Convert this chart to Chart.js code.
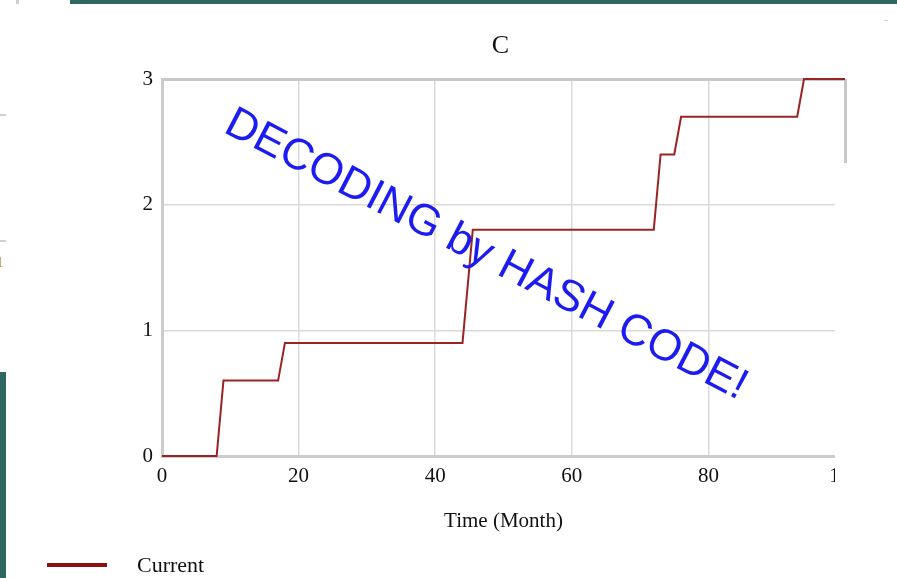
<!DOCTYPE html>
<html>
<head>
<meta charset="utf-8">
<script src="https://cdn.jsdelivr.net/npm/chart.js@4/dist/chart.umd.min.js"></script>
<style>
  html, body { margin: 0; padding: 0; background: #fff; overflow: hidden; }
  canvas { display: block; }
</style>
</head>
<body>
<canvas id="chart-c" width="897" height="578"></canvas>
<script>
// values
const time = [0, 8, 9, 17, 18, 44, 45.5, 72, 73, 75, 76, 93, 94, 100]
const current = [0, 0, 0.6, 0.6, 0.9, 0.9, 1.8, 1.8, 2.4, 2.4, 2.7, 2.7, 3, 3]
const xTicks = [0, 20, 40, 60, 80, 100]
const yTicks = [0, 1, 2, 3]

const serif = "'Liberation Serif', 'Times New Roman', serif"
const lineColor = "#9a2424"

// frame edges get the darker, thicker grey
const gridColor = (edge) => (c) => c.tick && c.tick.value === edge ? "#c8c8c8" : "#dadada"
const gridWidth = (edge, w) => (c) => c.tick && c.tick.value === edge ? w : 1.5

const decor = {
  id: "decor",
  afterDraw(chart) {
    const ctx = chart.ctx
    const area = chart.chartArea
    ctx.save()
    // the screenshot is cut off on the right below the top part
    ctx.fillStyle = "#fff"
    ctx.fillRect(835, 163, 62, 415)

    // chart title, centred a little left of the plot centre like the original
    ctx.fillStyle = "#111"
    ctx.font = "26px " + serif
    ctx.textAlign = "center"
    ctx.textBaseline = "middle"
    ctx.fillText("C", (area.left + area.right) / 2 - 3, 46)

    // bits of the surrounding slide
    ctx.fillStyle = "#2f6763"
    ctx.fillRect(70, 0, 827, 4)
    ctx.fillRect(0, 372, 6, 206)
    ctx.fillStyle = "#cfcfcf"
    ctx.fillRect(16, 0, 3, 4)
    ctx.fillRect(0, 114, 6, 2)
    ctx.fillRect(0, 240, 6, 2)
    ctx.fillRect(884, 20, 4, 1)
    ctx.fillStyle = "#b07030"
    ctx.font = "15px " + serif
    ctx.textAlign = "left"
    ctx.fillText("1", -4, 263)

    // legend
    ctx.strokeStyle = "#8b1010"
    ctx.lineWidth = 4
    ctx.beginPath()
    ctx.moveTo(47, 565)
    ctx.lineTo(107, 565)
    ctx.stroke()
    ctx.fillStyle = "#111"
    ctx.font = "22px " + serif
    ctx.fillText(chart.data.datasets[0].label, 137, 566)

    // watermark
    ctx.translate(486, 255)
    ctx.rotate(27.5 * Math.PI / 180)
    ctx.fillStyle = "#1c1cf0"
    ctx.font = "44px 'Liberation Sans', Arial, sans-serif"
    ctx.textAlign = "center"
    ctx.fillText("DECODING by HASH CODE!", 0, 0)
    ctx.restore()
  }
}

new Chart("chart-c", {
  type: "line",
  data: {
    datasets: [{
      label: "Current",
      data: time.map((t, i) => ({x: t, y: current[i]})),
      borderColor: lineColor,
      backgroundColor: lineColor,
      borderWidth: 2,
      pointRadius: 0,
      tension: 0,
      fill: false,
      clip: 3
    }]
  },
  options: {
    responsive: false,
    animation: false,
    layout: { padding: { left: 0, right: 52, top: 79, bottom: 0 } },
    plugins: {
      legend: { display: false },
      tooltip: { enabled: false },
      title: { display: false }
    },
    scales: {
      x: {
        type: "linear",
        min: 0,
        max: 100,
        afterFit: (s) => { s.height = 122 },
        afterBuildTicks: (s) => { s.ticks = xTicks.map(v => ({value: v})) },
        grid: { color: gridColor(100), lineWidth: gridWidth(100, 3), drawTicks: false },
        border: { color: "#cccccc", width: 3 },
        ticks: { color: "#111", padding: 8, font: { family: serif, size: 21 } },
        title: {
          display: true,
          text: "Time (Month)",
          color: "#111",
          font: { family: serif, size: 21 },
          padding: { top: 0, bottom: 44 }
        }
      },
      y: {
        min: 0,
        max: 3,
        afterFit: (s) => { s.width = 162 },
        afterBuildTicks: (s) => { s.ticks = yTicks.map(v => ({value: v})) },
        grid: { color: gridColor(3), lineWidth: gridWidth(3, 3), drawTicks: false },
        border: { color: "#cccccc", width: 3 },
        ticks: { color: "#111", padding: 9, font: { family: serif, size: 21 } }
      }
    }
  },
  plugins: [decor]
})
</script>
</body>
</html>
